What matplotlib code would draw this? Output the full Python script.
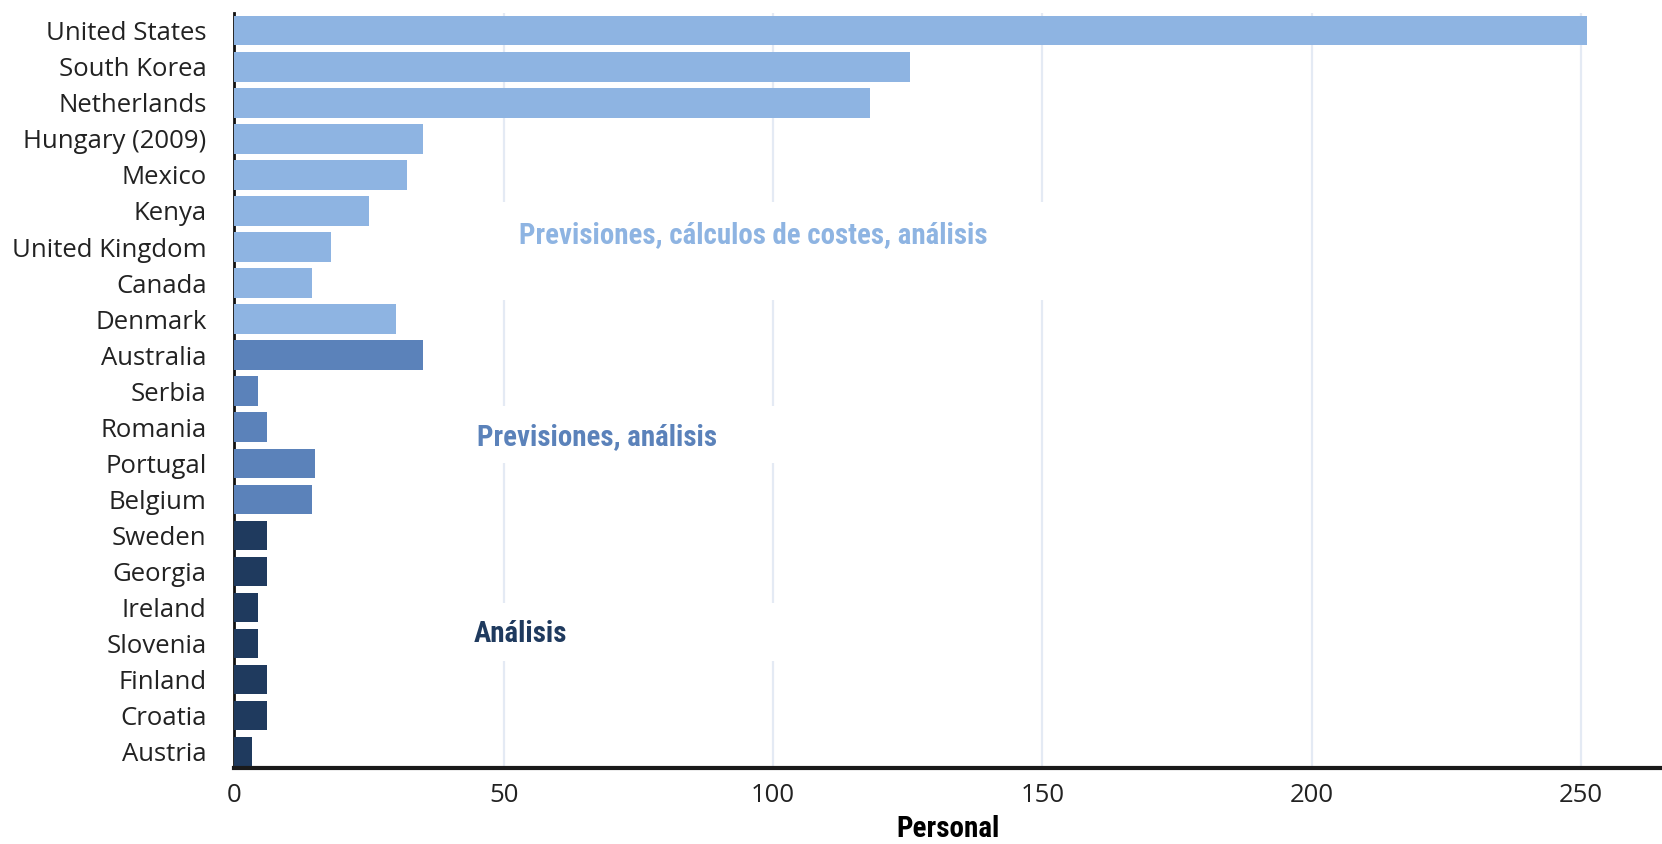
import matplotlib
matplotlib.use("Agg")
import matplotlib.pyplot as plt
from matplotlib import font_manager as fm
from matplotlib.patches import Rectangle

# ---------------- data ----------------
countries = ["United States", "South Korea", "Netherlands", "Hungary (2009)", "Mexico",
             "Kenya", "United Kingdom", "Canada", "Denmark", "Australia", "Serbia",
             "Romania", "Portugal", "Belgium", "Sweden", "Georgia", "Ireland",
             "Slovenia", "Finland", "Croatia", "Austria"]
personal = [251, 125.5, 118, 35, 32, 25, 18, 14.5, 30, 35, 4.3, 6, 15, 14.5,
            6, 6, 4.3, 4.3, 6, 6, 3.2]
group = [0, 0, 0, 0, 0, 0, 0, 0, 0, 1, 1, 1, 1, 1, 2, 2, 2, 2, 2, 2, 2]
group_labels = ["Previsiones, cálculos de costes, análisis",
                "Previsiones, análisis",
                "Análisis"]
group_colors = ["#8EB4E2", "#5B82BA", "#1F3A5E"]
x_ticks = [0, 50, 100, 150, 200, 250]
x_label = "Personal"

# ---------------- fonts ----------------
names = {f.name for f in fm.fontManager.ttflist}
if "Roboto Condensed" in names:
    cond = dict(family="Roboto Condensed")
elif "Liberation Sans Narrow" in names:
    cond = dict(family="Liberation Sans Narrow")
elif any(f.name == "DejaVu Sans" and "condensed" in str(f.stretch) for f in fm.fontManager.ttflist):
    cond = dict(family="DejaVu Sans", stretch="condensed")
else:
    cond = dict(family="Roboto")
reg_family = "Open Sans" if "Open Sans" in names else "DejaVu Sans"

# ---------------- figure ----------------
fig = plt.figure(figsize=(16.62, 8.44), dpi=100)
ax = fig.add_axes([0.141, 0.0905, 0.859, 0.8945])

ypos = list(range(len(countries)))
colors = [group_colors[g] for g in group]
ax.barh(ypos, personal, height=0.82, color=colors, zorder=3)

ax.set_xlim(0, 265)
ax.set_ylim(20.44, -0.5)
ax.set_yticks(ypos)
ax.set_yticklabels(countries, fontfamily=reg_family, fontsize=18.5, color="#222222")
ax.set_xticks(x_ticks)
ax.set_xticklabels([str(t) for t in x_ticks], fontfamily=reg_family, fontsize=18.5, color="#222222")
ax.tick_params(axis="y", length=0, pad=20)
ax.tick_params(axis="x", length=0, pad=11)

ax.grid(axis="x", color="#E4EAF4", linewidth=1.6, zorder=0)
ax.set_axisbelow(True)
for s in ["top", "right"]:
    ax.spines[s].set_visible(False)
ax.spines["left"].set_linewidth(2)
ax.spines["left"].set_color("#111111")
ax.spines["left"].set_zorder(2)
ax.spines["bottom"].set_linewidth(3)
ax.spines["bottom"].set_color("#1a1a1a")
ax.spines["bottom"].set_zorder(4)

ax.set_xlabel(x_label, fontsize=21, fontweight="bold", color="#000000", labelpad=5, **cond)

# white label boxes hiding the grid behind group labels
boxes = [(48.5, 4.76, 115, 2.71), (40, 10.41, 80, 1.59), (40, 15.88, 80, 1.59)]
for (bx, by, bw, bh) in boxes:
    ax.add_patch(Rectangle((bx, by), bw, bh, facecolor="white", edgecolor="none", zorder=1))

label_pos = [(52.8, 5.66), (45.1, 11.28), (44.5, 16.74)]
for (lx, ly), txt, col in zip(label_pos, group_labels, group_colors):
    ax.text(lx, ly, txt, color=col, fontsize=20.8, fontweight="bold", ha="left", va="center",
            zorder=5, **cond)

fig.savefig("out.png", dpi=100)
